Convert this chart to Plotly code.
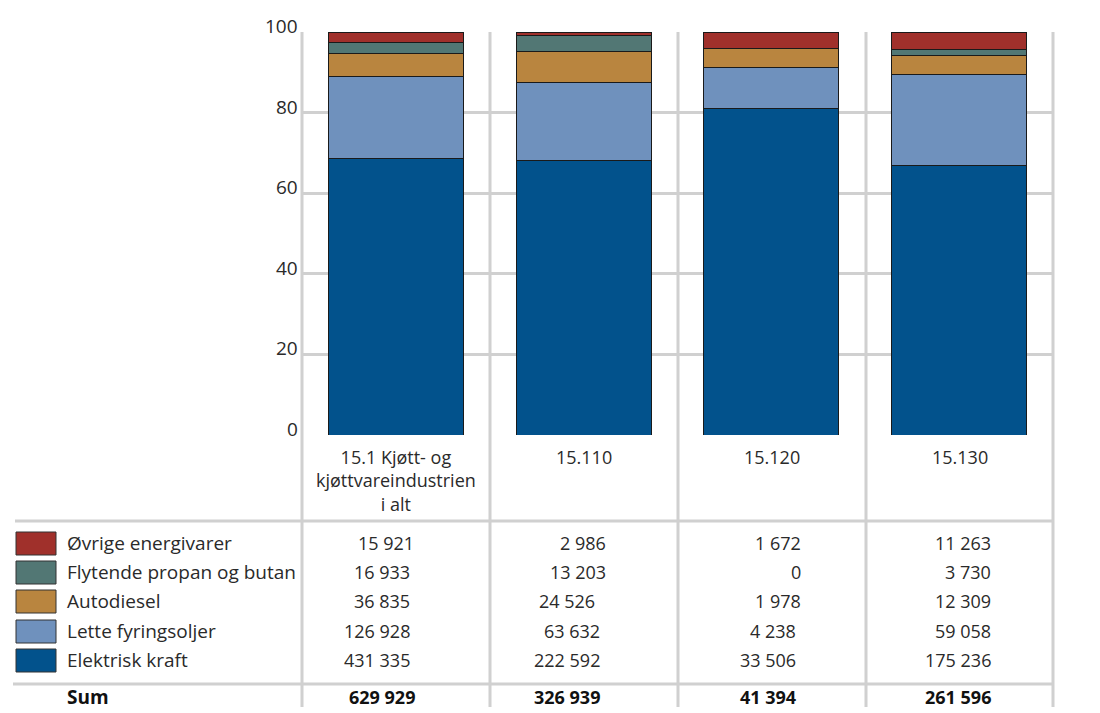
import plotly.graph_objects as go

# Categories (industry groups) and energy consumption per energy carrier
categories = ["15.1 Kjøtt- og<br>kjøttvareindustrien<br>i alt", "15.110", "15.120", "15.130"]
series_names = ["Elektrisk kraft", "Lette fyringsoljer", "Autodiesel",
                "Flytende propan og butan", "Øvrige energivarer"]
elektrisk_kraft = [431335, 222592, 33506, 175236]
lette_fyringsoljer = [126928, 63632, 4238, 59058]
autodiesel = [36835, 24526, 1978, 12309]
flytende_propan_butan = [16933, 13203, 0, 3730]
ovrige_energivarer = [15921, 2986, 1672, 11263]
totals = [629929, 326939, 41394, 261596]
y_ticks = [0, 20, 40, 60, 80, 100]

series_values = [elektrisk_kraft, lette_fyringsoljer, autodiesel,
                 flytende_propan_butan, ovrige_energivarer]
colors = ["#02528c", "#6f91bd", "#b9853f", "#527774", "#a0302b"]

W, H = 1100, 713
PX_L, PX_R, PY_T, PY_B = 302, 1053, 32, 435
FONT = "Open Sans"
TXT = "#2a2a2a"
GRID = "#d0d0d0"


def px(x):
    return (x - PX_L) / (PX_R - PX_L)


def py(y):
    return (PY_B - y) / (PY_B - PY_T)


def fmt(v):
    return f"{v:,}".replace(",", " ")


fig = go.Figure()
for name, vals, col in zip(series_names, series_values, colors):
    fig.add_trace(go.Bar(
        x=list(range(len(categories))), y=vals, name=name,
        marker=dict(color=col, line=dict(color="#1a1a1a", width=1)),
        width=0.72, showlegend=False,
    ))

shapes = []
annotations = []

# column separators spanning chart and table
col_edges = [302, 490, 678, 866, 1053]
for xe in col_edges:
    shapes.append(dict(type="line", xref="paper", yref="paper",
                       x0=px(xe), x1=px(xe), y0=py(PY_T), y1=py(707),
                       line=dict(color=GRID, width=3), layer="below"))
# table rules
for y_line, x_start in [(521, 15), (684, 13)]:
    shapes.append(dict(type="line", xref="paper", yref="paper",
                       x0=px(x_start), x1=px(1053), y0=py(y_line), y1=py(y_line),
                       line=dict(color=GRID, width=3)))

# y tick labels
for t in y_ticks:
    annotations.append(dict(x=px(300), xref="paper", y=t, yref="y", text=str(t),
                            xanchor="right", yanchor="middle", yshift=6, showarrow=False,
                            font=dict(family=FONT, size=19, color=TXT)))

# category labels, centred in each column
for i, lab in enumerate(categories):
    cx = (col_edges[i] + col_edges[i + 1]) / 2
    annotations.append(dict(x=px(cx), xref="paper", y=py(443), yref="paper", text=lab,
                            xanchor="center", yanchor="top", showarrow=False,
                            font=dict(family=FONT, size=18, color=TXT)))

# right edge of the numbers in each table cell (rows top to bottom, then sum)
num_right = [
    [416, 608, 803, 993],
    [412, 608, 803, 993],
    [412, 597, 803, 993],
    [412, 602, 798, 993],
    [412, 602, 798, 993],
    [417, 602, 798, 993],
]

# legend rows of the table, top row is the last series
row_y = [543, 572, 601, 631, 660]
for i, ry in enumerate(row_y):
    s = len(series_names) - 1 - i
    shapes.append(dict(type="rect", xref="paper", yref="paper",
                       x0=px(16), x1=px(56), y0=py(ry - 11), y1=py(ry + 12),
                       fillcolor=colors[s], line=dict(color="#333333", width=1)))
    annotations.append(dict(x=px(65), xref="paper", y=py(ry), yref="paper",
                            text=series_names[s], xanchor="left", yanchor="middle",
                            showarrow=False, font=dict(family=FONT, size=19, color=TXT)))
    for c in range(len(categories)):
        annotations.append(dict(x=px(num_right[i][c]), xref="paper", y=py(ry), yref="paper",
                                text=fmt(series_values[s][c]), xanchor="right",
                                yanchor="middle", showarrow=False,
                                font=dict(family=FONT, size=18, color=TXT)))

# sum row
sum_y = 697
annotations.append(dict(x=px(65), xref="paper", y=py(sum_y), yref="paper",
                        text="<b>Sum</b>", xanchor="left", yanchor="middle",
                        showarrow=False, font=dict(family=FONT, size=19, color="#111111")))
for c in range(len(categories)):
    annotations.append(dict(x=px(num_right[5][c]), xref="paper", y=py(sum_y), yref="paper",
                            text=f"<b>{fmt(totals[c])}</b>", xanchor="right",
                            yanchor="middle", showarrow=False,
                            font=dict(family=FONT, size=18, color="#111111")))

fig.update_layout(
    width=W, height=H, autosize=False,
    margin=dict(l=PX_L, r=W - PX_R, t=PY_T, b=H - PY_B, pad=0),
    barmode="stack", barnorm="percent",
    paper_bgcolor="white", plot_bgcolor="white",
    xaxis=dict(range=[-0.5, len(categories) - 0.5], showticklabels=False,
               showgrid=False, zeroline=False, showline=False, fixedrange=True),
    yaxis=dict(range=[0, 100], tickvals=y_ticks, showticklabels=False,
               showgrid=True, gridcolor=GRID, gridwidth=3,
               zeroline=False, showline=False, fixedrange=True),
    shapes=shapes, annotations=annotations,
    font=dict(family=FONT, color=TXT),
)

fig.write_html("out.html")
